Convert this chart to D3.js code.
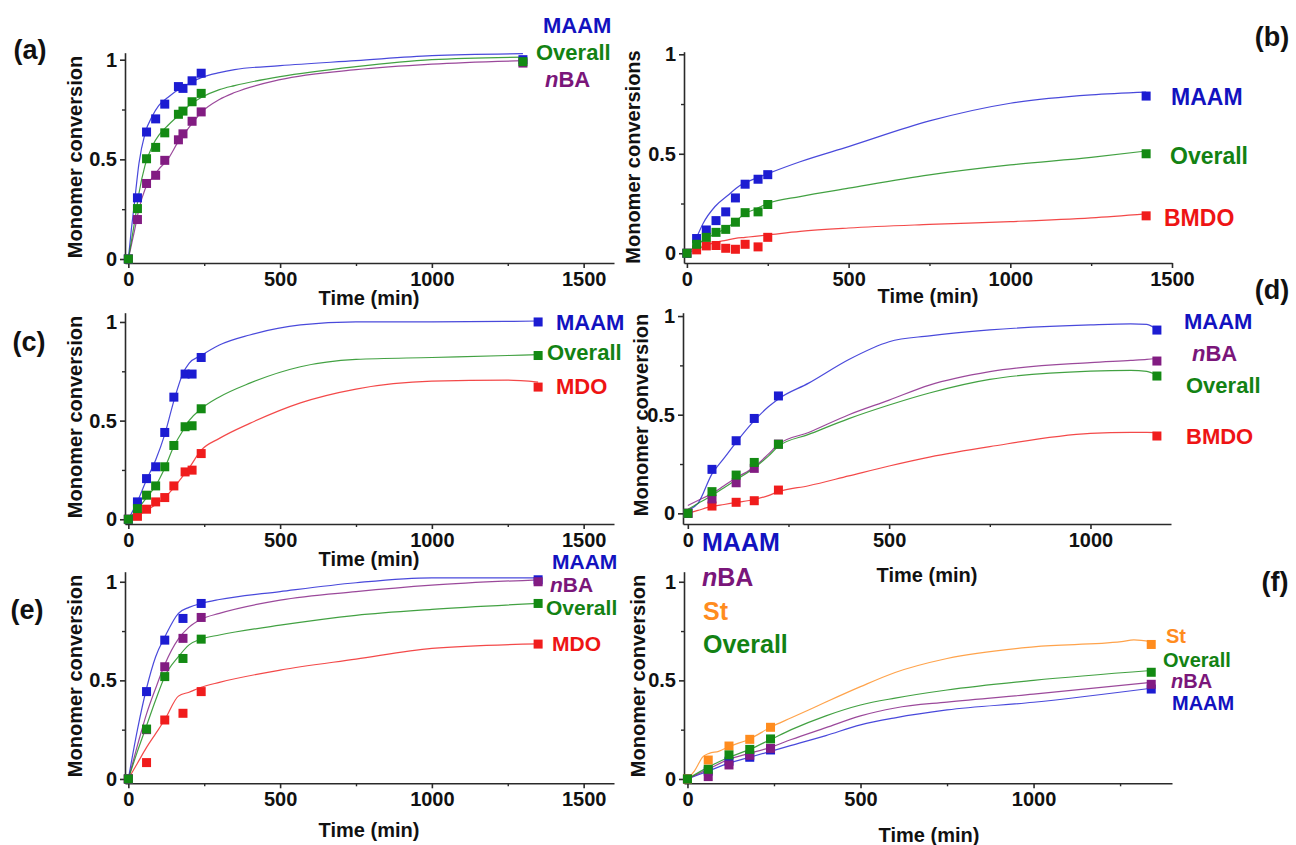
<!DOCTYPE html>
<html><head><meta charset="utf-8">
<script src="https://cdn.jsdelivr.net/npm/d3@7"></script>
<style>
body{margin:0;background:#fff;}
svg text{font-family:"Liberation Sans",Arial,sans-serif;font-weight:bold;}
</style></head><body>
<svg id="chart" width="1296" height="845"></svg>
<script>
// ---------- shared tick labels ----------
const yTicks = [0, 0.5, 1];
const yMinor = [0.25, 0.75];
const xTicks1500 = [0, 500, 1000, 1500];
const xMinor1500 = [250, 750, 1250];
const xTicks1000 = [0, 500, 1000];
const xMinor1000 = [250, 750];
const xTitle = "Time (min)";
const yTitle = "Monomer conversion";
const yTitleB = "Monomer conversions";

// ---------- panel (a) ----------
const aTime = [0, 30, 60, 90, 120, 165, 180, 210, 240, 1300];
const aMAAM = [0, 0.307, 0.637, 0.703, 0.777, 0.865, 0.856, 0.894, 0.932, 1.0];
const aOverall = [0, 0.253, 0.503, 0.56, 0.633, 0.726, 0.742, 0.789, 0.831, 0.99];
const aNBA = [0, 0.198, 0.379, 0.42, 0.495, 0.598, 0.628, 0.691, 0.738, 0.983];
const aFitT = [0, 10, 20, 35, 55, 80, 100, 130, 165, 200, 240, 300, 350, 500, 750, 1000, 1300];
const aFitMAAM = [0, 0.15, 0.28, 0.48, 0.63, 0.72, 0.77, 0.81, 0.85, 0.88, 0.91, 0.935, 0.95, 0.97, 0.995, 1.02, 1.03];
const aFitOverall = [0, 0.09, 0.18, 0.33, 0.47, 0.57, 0.62, 0.67, 0.72, 0.77, 0.81, 0.85, 0.87, 0.915, 0.965, 1.0, 1.013];
const aFitNBA = [0, 0.07, 0.14, 0.25, 0.35, 0.41, 0.45, 0.5, 0.59, 0.66, 0.735, 0.8, 0.835, 0.9, 0.95, 0.978, 0.995];

// ---------- panel (b) ----------
const bTime = [0, 30, 60, 90, 120, 150, 180, 220, 250, 1420];
const bMAAM = [0, 0.074, 0.117, 0.164, 0.208, 0.278, 0.347, 0.372, 0.395, 0.79];
const bOverall = [0, 0.045, 0.08, 0.105, 0.12, 0.156, 0.204, 0.208, 0.245, 0.5];
const bBMDO = [0, 0.017, 0.037, 0.039, 0.025, 0.02, 0.045, 0.032, 0.08, 0.188];
const bFitMAAMT = [25, 50, 87, 126, 164, 203, 250, 350, 500, 750, 1000, 1250, 1420];
const bFitMAAM = [0.06, 0.15, 0.235, 0.29, 0.34, 0.37, 0.4, 0.46, 0.536, 0.665, 0.754, 0.796, 0.81];
const bFitT = [0, 30, 60, 90, 120, 150, 180, 210, 250, 350, 500, 750, 1000, 1250, 1420];
const bFitOverall = [0, 0.04, 0.075, 0.1, 0.125, 0.16, 0.2, 0.22, 0.25, 0.285, 0.327, 0.394, 0.444, 0.482, 0.514];
const bFitBMDO = [0, 0.02, 0.04, 0.055, 0.065, 0.075, 0.08, 0.085, 0.092, 0.11, 0.127, 0.145, 0.159, 0.178, 0.198];

// ---------- panel (c) ----------
const cTime = [0, 30, 60, 90, 120, 150, 187, 210, 240, 1350];
const cMAAM = [0, 0.088, 0.206, 0.266, 0.44, 0.619, 0.736, 0.736, 0.82, 1.0];
const cOverall = [0, 0.054, 0.122, 0.169, 0.266, 0.374, 0.469, 0.474, 0.56, 0.83];
const cMDO = [0, 0.015, 0.051, 0.088, 0.11, 0.169, 0.24, 0.249, 0.333, 0.67];
const cFitT = [0, 30, 60, 90, 120, 150, 180, 200, 240, 300, 400, 567, 750, 1000, 1250, 1350];
const cFitMAAM = [0, 0.09, 0.2, 0.3, 0.43, 0.6, 0.74, 0.79, 0.83, 0.883, 0.934, 0.985, 1.0, 1.0, 1.003, 1.005];
const cFitOverall = [0, 0.05, 0.11, 0.17, 0.26, 0.37, 0.45, 0.5, 0.56, 0.62, 0.69, 0.773, 0.81, 0.82, 0.83, 0.835];
const cFitMDO = [0, 0.02, 0.045, 0.075, 0.11, 0.16, 0.22, 0.26, 0.35, 0.41, 0.486, 0.59, 0.66, 0.7, 0.705, 0.695];

// ---------- panel (d) ----------
const dTime = [0, 60, 120, 165, 225, 1165];
const dMAAM = [0, 0.223, 0.368, 0.481, 0.595, 0.929];
const dNBA = [0, 0.073, 0.155, 0.228, 0.351, 0.772];
const dOverall = [0, 0.11, 0.194, 0.258, 0.35, 0.696];
const dBMDO = [0, 0.037, 0.056, 0.064, 0.118, 0.392];
const dFitT = [0, 25, 60, 90, 120, 165, 200, 225, 300, 400, 500, 600, 750, 1000, 1100, 1140, 1165];
const dFitMAAM = [0.015, 0.05, 0.2, 0.28, 0.36, 0.47, 0.54, 0.58, 0.66, 0.78, 0.87, 0.9, 0.93, 0.955, 0.96, 0.958, 0.93];
const dFitNBA = [0.04, 0.065, 0.1, 0.14, 0.18, 0.235, 0.3, 0.35, 0.41, 0.5, 0.574, 0.65, 0.718, 0.764, 0.775, 0.78, 0.785];
const dFitOverall = [0.02, 0.05, 0.09, 0.13, 0.17, 0.23, 0.29, 0.34, 0.4, 0.48, 0.549, 0.61, 0.679, 0.721, 0.725, 0.72, 0.7];
const dFitBMDO = [0, 0.015, 0.035, 0.045, 0.055, 0.07, 0.09, 0.11, 0.14, 0.19, 0.24, 0.285, 0.338, 0.405, 0.41, 0.41, 0.409];

// ---------- panel (e) ----------
const eTime = [0, 60, 120, 180, 240, 1350];
const eMAAM = [0, 0.443, 0.704, 0.814, 0.89, 1.01];
const eNBA = [0, 0.25, 0.569, 0.713, 0.819, 1.0];
const eOverall = [0, 0.253, 0.519, 0.611, 0.709, 0.89];
const eMDO = [0, 0.083, 0.299, 0.333, 0.443, 0.684];
const eFitT = [0, 30, 60, 90, 120, 165, 200, 240, 300, 500, 750, 1000, 1350];
const eFitMAAM = [0, 0.25, 0.46, 0.62, 0.72, 0.84, 0.87, 0.89, 0.91, 0.95, 0.995, 1.02, 1.02];
const eFitNBA = [0, 0.17, 0.33, 0.46, 0.58, 0.71, 0.77, 0.81, 0.84, 0.907, 0.95, 0.983, 1.01];
const eFitOverall = [0, 0.14, 0.27, 0.4, 0.52, 0.62, 0.68, 0.71, 0.73, 0.78, 0.83, 0.86, 0.89];
const eFitMDO = [0, 0.08, 0.16, 0.23, 0.3, 0.42, 0.44, 0.465, 0.49, 0.552, 0.608, 0.662, 0.685];

// ---------- panel (f) ----------
const fTime = [0, 60, 120, 180, 240, 1340];
const fSt = [0, 0.096, 0.167, 0.201, 0.262, 0.682];
const fOverall = [0, 0.049, 0.122, 0.15, 0.203, 0.541];
const fNBA = [0, 0.012, 0.071, 0.12, 0.155, 0.48];
const fMAAM = [0, 0.04, 0.09, 0.11, 0.147, 0.456];
const fFitStT = [0, 20, 45, 63, 90, 120, 180, 240, 300, 350, 400, 500, 600, 750, 1000, 1254, 1290, 1340];
const fFitSt = [0, 0.04, 0.113, 0.13, 0.14, 0.164, 0.203, 0.262, 0.31, 0.35, 0.39, 0.468, 0.54, 0.611, 0.67, 0.696, 0.705, 0.695];
const fFitT = [0, 60, 120, 180, 240, 300, 400, 500, 600, 750, 1000, 1340];
const fFitOverall = [0, 0.06, 0.11, 0.15, 0.2, 0.25, 0.32, 0.375, 0.41, 0.451, 0.5, 0.55];
const fFitNBA = [0, 0.05, 0.1, 0.13, 0.16, 0.2, 0.26, 0.32, 0.36, 0.39, 0.43, 0.49];
const fFitMAAM = [0, 0.04, 0.08, 0.11, 0.14, 0.17, 0.22, 0.274, 0.31, 0.35, 0.389, 0.46];

// ---------- styling ----------
const markColor = {MAAM:"#1c1cd2", Overall:"#138a13", nBA:"#821c82", MDO:"#f01c1c", BMDO:"#f01c1c", St:"#ff8c1e"};
const textColor = {MAAM:"#1212c0", Overall:"#138213", nBA:"#7a167a", MDO:"#ee1414", BMDO:"#ee1414", St:"#ff8c1e"};

const svg = d3.select("#chart");
const zip = (a, b) => a.map((t, i) => [t, b[i]]);

const panels = [
  {id:"(a)", lab:[30,50], xDomain:[-11,1600], xRange:[125,614], yDomain:[-0.02,1.035], yRange:[263,52.7],
   xt:xTicks1500, xm:xMinor1500, ylab:[75,157], yTitle:yTitle, xlab:[369,298],
   series:[
     {n:"MAAM", t:aTime, v:aMAAM, ft:aFitT, fv:aFitMAAM},
     {n:"nBA", t:aTime, v:aNBA, ft:aFitT, fv:aFitNBA},
     {n:"Overall", t:aTime, v:aOverall, ft:aFitT, fv:aFitOverall}],
   legend:[["MAAM",543,25],["Overall",536,52],["nBA",545,79]], fs:22},
  {id:"(b)", lab:[1272,37], xDomain:[-9,1500], xRange:[684,1172], yDomain:[-0.049,1.013], yRange:[263,51.7],
   xt:xTicks1500, xm:xMinor1500, ylab:[633,157], yTitle:yTitleB, xlab:[928,296],
   series:[
     {n:"BMDO", t:bTime, v:bBMDO, ft:bFitT, fv:bFitBMDO},
     {n:"MAAM", t:bTime, v:bMAAM, ft:bFitMAAMT, fv:bFitMAAM},
     {n:"Overall", t:bTime, v:bOverall, ft:bFitT, fv:bFitOverall}],
   legend:[["MAAM",1171,97],["Overall",1170,156],["BMDO",1164,218]], fs:23},
  {id:"(c)", lab:[29,342], xDomain:[-11,1600], xRange:[125,614], yDomain:[-0.024,1.047], yRange:[524,312.7],
   xt:xTicks1500, xm:xMinor1500, ylab:[75,417], yTitle:yTitle, xlab:[369,559],
   series:[
     {n:"MDO", t:cTime, v:cMDO, ft:cFitT, fv:cFitMDO},
     {n:"MAAM", t:cTime, v:cMAAM, ft:cFitT, fv:cFitMAAM},
     {n:"Overall", t:cTime, v:cOverall, ft:cFitT, fv:cFitOverall}],
   legend:[["MAAM",556,322],["Overall",547,352],["MDO",556,386]], fs:22},
  {id:"(d)", lab:[1272,290], xDomain:[-12,1200], xRange:[683,1171], yDomain:[-0.054,1.017], yRange:[524,312.7],
   xt:xTicks1000, xm:xMinor1000, ylab:[641,415], yTitle:yTitle, xlab:[927,575],
   series:[
     {n:"BMDO", t:dTime, v:dBMDO, ft:dFitT, fv:dFitBMDO},
     {n:"MAAM", t:dTime, v:dMAAM, ft:dFitT, fv:dFitMAAM},
     {n:"nBA", t:dTime, v:dNBA, ft:dFitT, fv:dFitNBA},
     {n:"Overall", t:dTime, v:dOverall, ft:dFitT, fv:dFitOverall}],
   legend:[["MAAM",1184,321],["nBA",1192,353],["Overall",1186,385],["BMDO",1186,436]], fs:22},
  {id:"(e)", lab:[27,610], xDomain:[-11,1600], xRange:[125,614], yDomain:[-0.022,1.051], yRange:[783.3,571.7],
   xt:xTicks1500, xm:xMinor1500, ylab:[75,676], yTitle:yTitle, xlab:[369,830],
   series:[
     {n:"MDO", t:eTime, v:eMDO, ft:eFitT, fv:eFitMDO},
     {n:"MAAM", t:eTime, v:eMAAM, ft:eFitT, fv:eFitMAAM},
     {n:"nBA", t:eTime, v:eNBA, ft:eFitT, fv:eFitNBA},
     {n:"Overall", t:eTime, v:eOverall, ft:eFitT, fv:eFitOverall}],
   legend:[["MAAM",552,561],["nBA",550,584],["Overall",546,607],["MDO",552,643]], fs:21},
  {id:"(f)", lab:[1275,582], xDomain:[-10,1400], xRange:[684,1172], yDomain:[-0.022,1.051], yRange:[783.3,571.7],
   xt:xTicks1000, xm:xMinor1500, ylab:[638,676], yTitle:yTitle, xlab:[929,835],
   series:[
     {n:"MAAM", t:fTime, v:fMAAM, ft:fFitT, fv:fFitMAAM},
     {n:"nBA", t:fTime, v:fNBA, ft:fFitT, fv:fFitNBA},
     {n:"St", t:fTime, v:fSt, ft:fFitStT, fv:fFitSt},
     {n:"Overall", t:fTime, v:fOverall, ft:fFitT, fv:fFitOverall}],
   legend:[["St",1166,636],["Overall",1163,660],["nBA",1171,681],["MAAM",1172,703]], fs:20,
   legend2:[["MAAM",702,542],["nBA",702,577],["St",703,611],["Overall",703,644]]}
];

function addLabel(g, name, x, y, size) {
  const t = g.append("text").attr("x", x).attr("y", y + size * 0.36)
    .attr("font-size", size).attr("fill", textColor[name]);
  if (name === "nBA") {
    t.append("tspan").attr("font-style", "italic").text("n");
    t.append("tspan").text("BA");
  } else t.text(name);
}

function styleAxis(sel) {
  sel.select(".domain").attr("stroke", "#2a2a2a").attr("stroke-width", 1.6);
  sel.selectAll(".tick line").attr("stroke", "#2a2a2a").attr("stroke-width", 1.6);
  sel.selectAll(".tick text").attr("font-size", 20).attr("fill", "#111");
}

panels.forEach(p => {
  const x = d3.scaleLinear().domain(p.xDomain).range(p.xRange);
  const y = d3.scaleLinear().domain(p.yDomain).range(p.yRange);
  const g = svg.append("g");

  // minor ticks
  const xm = p.xm.filter(d => d <= p.xDomain[1]);
  g.append("g").attr("transform", `translate(0,${p.yRange[0]})`)
    .call(d3.axisBottom(x).tickValues(xm).tickSize(3).tickSizeOuter(0).tickFormat(""))
    .call(s => { s.select(".domain").remove(); s.selectAll(".tick line").attr("stroke", "#2a2a2a").attr("stroke-width", 1.4); });
  g.append("g").attr("transform", `translate(${p.xRange[0]},0)`)
    .call(d3.axisLeft(y).tickValues(yMinor).tickSize(3).tickSizeOuter(0).tickFormat(""))
    .call(s => { s.select(".domain").remove(); s.selectAll(".tick line").attr("stroke", "#2a2a2a").attr("stroke-width", 1.4); });

  // major axes
  g.append("g").attr("transform", `translate(0,${p.yRange[0]})`)
    .call(d3.axisBottom(x).tickValues(p.xt).tickSize(5).tickSizeOuter(0).tickPadding(4).tickFormat(d => String(d)))
    .call(styleAxis);
  g.append("g").attr("transform", `translate(${p.xRange[0]},0)`)
    .call(d3.axisLeft(y).tickValues(yTicks).tickSize(5).tickSizeOuter(0).tickPadding(3).tickFormat(d => String(d)))
    .call(styleAxis);

  // titles
  g.append("text").attr("x", p.xlab[0]).attr("y", p.xlab[1] + 7).attr("text-anchor", "middle")
    .attr("font-size", 20).attr("fill", "#111").text(xTitle);
  g.append("text").attr("transform", `translate(${p.ylab[0] + 7},${p.ylab[1]}) rotate(-90)`)
    .attr("text-anchor", "middle").attr("font-size", 20).attr("fill", "#111").text(p.yTitle);
  g.append("text").attr("x", p.lab[0]).attr("y", p.lab[1] + 9).attr("text-anchor", "middle")
    .attr("font-size", 27).attr("fill", "#111").text(p.id);

  // fitted lines
  const line = d3.line().x(d => x(d[0])).y(d => y(d[1])).curve(d3.curveMonotoneX);
  p.series.forEach(s => {
    g.append("path").attr("d", line(zip(s.ft, s.fv))).attr("fill", "none")
      .attr("stroke", markColor[s.n]).attr("stroke-width", 1.2).attr("stroke-opacity", 0.8);
  });
  // markers
  p.series.forEach(s => {
    g.append("g").selectAll("rect").data(zip(s.t, s.v)).join("rect")
      .attr("x", d => x(d[0]) - 4.5).attr("y", d => y(d[1]) - 4.5)
      .attr("width", 9).attr("height", 9).attr("fill", markColor[s.n]);
  });

  // legends
  p.legend.forEach(l => addLabel(g, l[0], l[1], l[2], p.fs));
  if (p.legend2) p.legend2.forEach(l => addLabel(g, l[0], l[1], l[2], 25));
});
</script>
</body></html>
